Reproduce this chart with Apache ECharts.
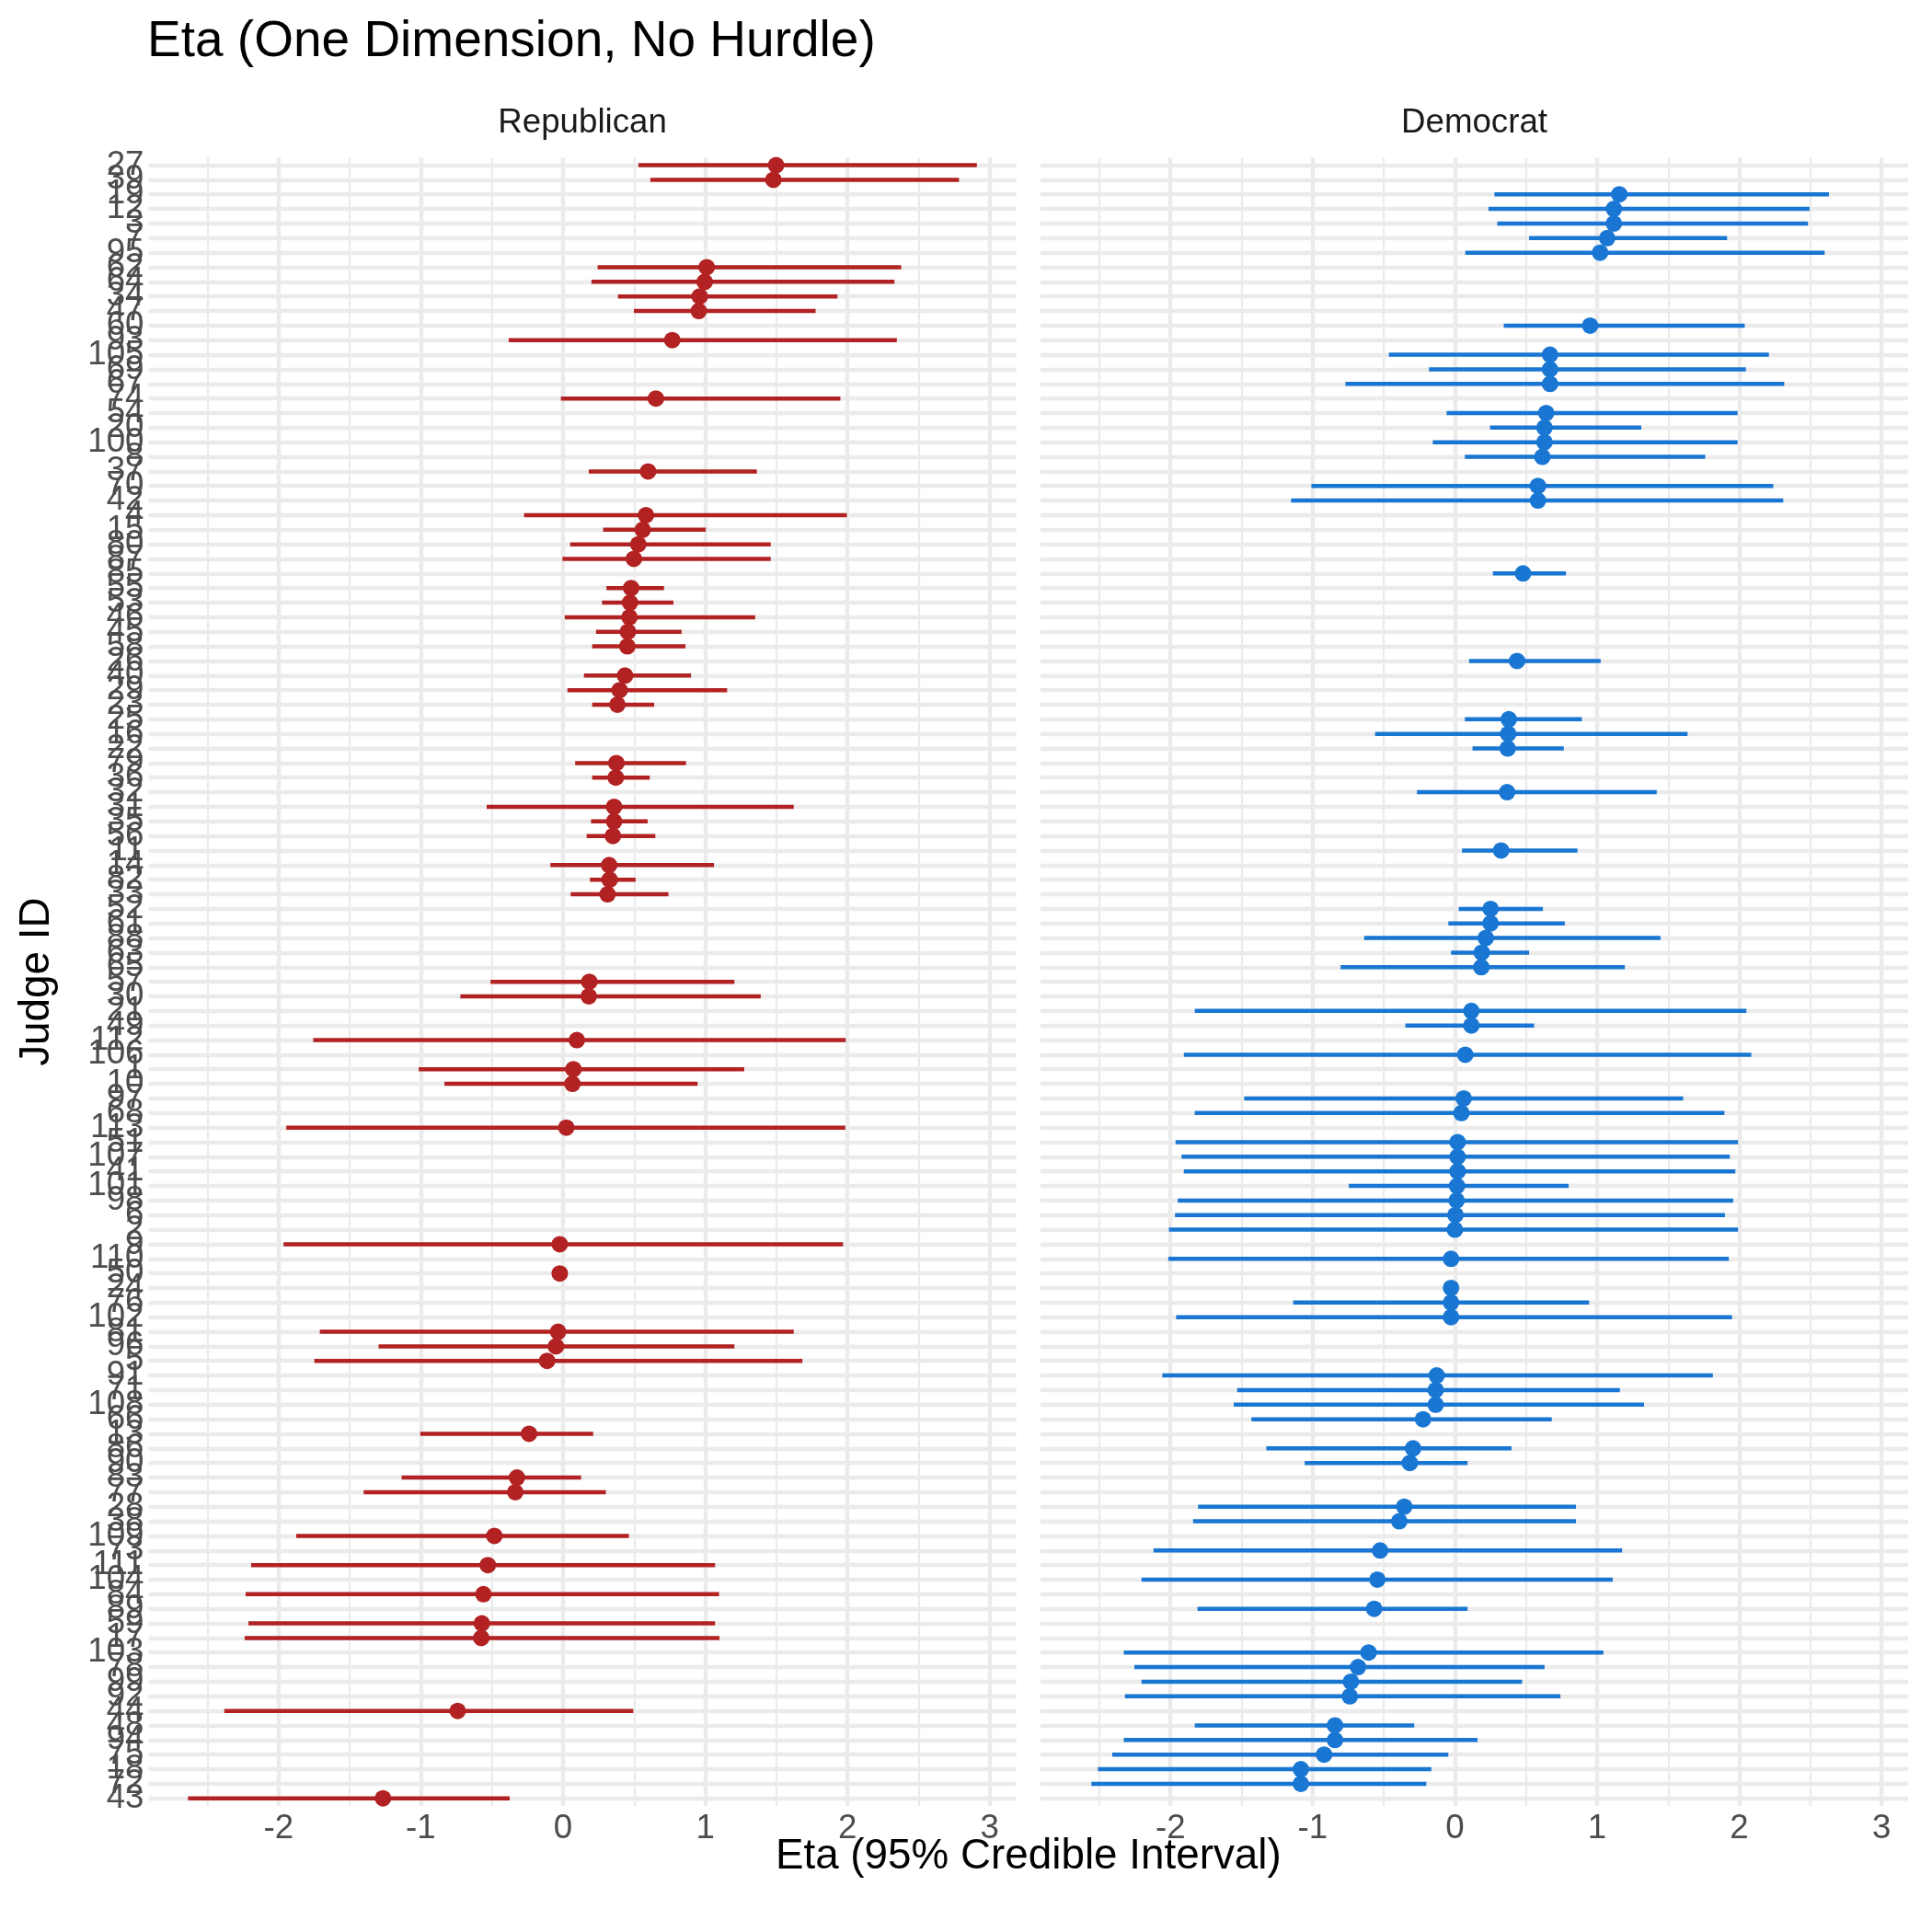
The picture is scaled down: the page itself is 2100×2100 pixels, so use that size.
<!DOCTYPE html>
<html><head><meta charset="utf-8">
<script src="https://cdn.jsdelivr.net/npm/echarts@6/dist/echarts.min.js"></script>
<style>html,body{margin:0;padding:0;background:#fff}#c{width:2100px;height:2100px}</style>
</head><body><div id="c"></div>
<script>
// Judge IDs top to bottom (sorted by eta)
const judgeOrder = ["27","39","19","12","3","7","95","62","64","34","47","60","93","105","69","67","74","54","20","100","8","37","70","42","4","15","80","87","85","55","53","46","45","58","26","40","29","23","25","16","22","79","36","32","31","35","56","11","14","82","33","52","61","88","63","65","57","30","21","49","112","106","1","10","97","68","113","51","107","41","101","98","6","2","9","110","50","24","76","102","81","96","5","91","71","108","66","13","86","90","83","77","28","38","109","73","111","104","84","89","59","17","103","78","99","92","44","48","94","75","18","72","43"];

// Republican panel
const repJudges = ["27","39","62","64","34","47","93","74","37","4","15","80","87","55","53","46","45","58","40","29","23","79","36","31","35","56","14","82","33","57","30","112","1","10","113","9","50","81","96","5","13","83","77","109","111","84","59","17","44","43"];
const repEta  = [1.498,1.479,1.01,0.996,0.961,0.954,0.768,0.653,0.598,0.583,0.56,0.529,0.498,0.479,0.471,0.467,0.456,0.452,0.436,0.398,0.382,0.375,0.371,0.359,0.359,0.351,0.324,0.328,0.313,0.185,0.181,0.097,0.073,0.066,0.023,-0.023,-0.023,-0.035,-0.05,-0.112,-0.239,-0.324,-0.336,-0.483,-0.529,-0.56,-0.571,-0.575,-0.741,-1.266];
const repLow  = [0.53,0.614,0.243,0.20,0.386,0.498,-0.382,-0.015,0.181,-0.274,0.282,0.05,-0.004,0.305,0.274,0.012,0.232,0.205,0.147,0.031,0.205,0.085,0.205,-0.537,0.197,0.166,-0.089,0.189,0.054,-0.51,-0.722,-1.757,-1.015,-0.834,-1.946,-1.965,-0.03,-1.71,-1.297,-1.749,-1.004,-1.135,-1.402,-1.876,-2.193,-2.232,-2.212,-2.239,-2.382,-2.637];
const repHigh = [2.91,2.784,2.378,2.33,1.93,1.776,2.347,1.95,1.363,1.996,1.004,1.46,1.46,0.71,0.776,1.351,0.834,0.861,0.90,1.154,0.641,0.865,0.61,1.622,0.595,0.649,1.062,0.51,0.741,1.205,1.39,1.988,1.274,0.946,1.985,1.969,-0.015,1.622,1.205,1.683,0.212,0.127,0.301,0.463,1.069,1.097,1.069,1.10,0.494,-0.375];

// Democrat panel
const demJudges = ["19","12","3","7","95","60","105","69","67","54","20","100","8","70","42","85","26","25","16","22","32","11","52","61","88","63","65","21","49","106","97","68","51","107","41","101","98","6","2","110","24","76","102","91","71","108","66","86","90","28","38","73","104","89","103","78","99","92","48","94","75","18","72"];
const demEta  = [1.156,1.118,1.118,1.071,1.021,0.951,0.669,0.669,0.669,0.642,0.63,0.63,0.615,0.584,0.584,0.479,0.437,0.379,0.375,0.371,0.367,0.325,0.251,0.251,0.217,0.189,0.186,0.116,0.116,0.073,0.062,0.046,0.019,0.019,0.019,0.015,0.012,0.004,0.0,-0.027,-0.027,-0.027,-0.027,-0.128,-0.135,-0.135,-0.224,-0.294,-0.317,-0.356,-0.391,-0.526,-0.545,-0.568,-0.607,-0.681,-0.731,-0.739,-0.843,-0.843,-0.92,-1.083,-1.083];
const demLow  = [0.278,0.236,0.298,0.522,0.073,0.344,-0.464,-0.182,-0.77,-0.058,0.247,-0.155,0.07,-1.009,-1.152,0.267,0.10,0.07,-0.561,0.124,-0.267,0.05,0.027,-0.046,-0.638,-0.027,-0.804,-1.829,-0.348,-1.906,-1.481,-1.829,-1.964,-1.922,-1.906,-0.746,-1.949,-1.968,-2.011,-2.015,-0.04,-1.137,-1.96,-2.057,-1.531,-1.555,-1.431,-1.326,-1.056,-1.806,-1.841,-2.119,-2.204,-1.81,-2.328,-2.254,-2.204,-2.32,-1.829,-2.328,-2.409,-2.51,-2.556];
const demHigh = [2.63,2.494,2.483,1.914,2.60,2.038,2.208,2.046,2.316,1.988,1.311,1.988,1.76,2.239,2.309,0.781,1.025,0.893,1.636,0.766,1.419,0.862,0.619,0.773,1.446,0.522,1.195,2.05,0.557,2.084,1.605,1.895,1.991,1.933,1.972,0.80,1.957,1.899,1.991,1.926,-0.015,0.944,1.949,1.814,1.16,1.33,0.681,0.398,0.089,0.851,0.851,1.176,1.11,0.089,1.044,0.63,0.472,0.742,-0.286,0.159,-0.046,-0.166,-0.201];

const panelNames = ["Republican","Democrat"];
const panelColors = ["#B22222","#1976D2"];

const FF = '"Liberation Sans", Arial, Helvetica, sans-serif';
const allLow = repLow.concat(demLow), allHigh = repHigh.concat(demHigh);
const lo = Math.min.apply(null, allLow), hi = Math.max.apply(null, allHigh);
const pad = (hi - lo) * 0.05;
const xMin = lo - pad, xMax = hi + pad;

const band = 15.85;
const gridTop = 171.6;
const gridH = band * judgeOrder.length;
const panelW = 943.2;
const lefts = [161.5, 1130.9];

const chart = echarts.init(document.getElementById('c'), null, {renderer:'canvas'});

function xAxisCfg(i){
  return {type:'value', gridIndex:i, min:xMin, max:xMax,
    axisLine:{show:false}, axisTick:{show:false},
    axisLabel:{fontSize:36.7, color:'#4D4D4D', fontFamily:FF, margin:7,
      formatter:function(v){ return Math.abs(v-Math.round(v))<1e-9 ? String(Math.round(v)) : ''; }},
    splitLine:{show:true, showMinLine:false, showMaxLine:false, lineStyle:{color:'#EBEBEB', width:4.4}},
    minorTick:{show:false, splitNumber:2},
    minorSplitLine:{show:true, lineStyle:{color:'#EBEBEB', width:2.2}}
  };
}
function yAxisCfg(i){
  return {type:'category', gridIndex:i, data:judgeOrder, inverse:true, boundaryGap:true,
    axisLine:{show:false}, axisTick:{show:false},
    axisLabel:{show:i===0, interval:0, fontSize:36.7, color:'#4D4D4D', fontFamily:FF, margin:5},
    splitLine:{show:true, interval:0, alignWithLabel:true, lineStyle:{color:'#EBEBEB', width:4.4}}
  };
}
function errSeries(i, judges, low, high){
  const color = panelColors[i];
  return {type:'custom', xAxisIndex:i, yAxisIndex:i, silent:true, z:2,
    data: judges.map(function(j,k){ return [low[k], high[k], judgeOrder.indexOf(j)]; }),
    encode:{x:[0,1], y:2},
    renderItem:function(params, api){
      const y = api.value(2);
      const a = api.coord([api.value(0), y]);
      const b = api.coord([api.value(1), y]);
      return {type:'line', shape:{x1:a[0], y1:a[1], x2:b[0], y2:b[1]}, style:{stroke:color, lineWidth:4.5}};
    }
  };
}
function ptSeries(i, judges, eta){
  return {type:'scatter', xAxisIndex:i, yAxisIndex:i, silent:true, z:3,
    symbol:'circle', symbolSize:18, itemStyle:{color:panelColors[i], opacity:1},
    data: judges.map(function(j,k){ return [eta[k], judgeOrder.indexOf(j)]; })
  };
}

const option = {
  animation:false,
  backgroundColor:'#ffffff',
  grid: lefts.map(function(l){ return {left:l, top:gridTop, width:panelW, height:gridH, containLabel:false}; }),
  xAxis: [xAxisCfg(0), xAxisCfg(1)],
  yAxis: [yAxisCfg(0), yAxisCfg(1)],
  series: [
    errSeries(0, repJudges, repLow, repHigh), ptSeries(0, repJudges, repEta),
    errSeries(1, demJudges, demLow, demHigh), ptSeries(1, demJudges, demEta)
  ],
  graphic: [
    {type:'text', left:160, top:18, style:{text:'Eta (One Dimension, No Hurdle)', font:'55px '+FF, fill:'#000000'}},
    {type:'text', x:lefts[0]+panelW/2, y:134, style:{text:panelNames[0], font:'36.7px '+FF, fill:'#1A1A1A', align:'center', verticalAlign:'middle'}},
    {type:'text', x:lefts[1]+panelW/2, y:134, style:{text:panelNames[1], font:'36.7px '+FF, fill:'#1A1A1A', align:'center', verticalAlign:'middle'}},
    {type:'text', x:(lefts[0]+lefts[1]+panelW)/2, y:2018, style:{text:'Eta (95% Credible Interval)', font:'45.8px '+FF, fill:'#000000', align:'center', verticalAlign:'middle'}},
    {type:'text', x:40, y:gridTop+gridH/2, rotation:Math.PI/2, style:{text:'Judge ID', font:'45.8px '+FF, fill:'#000000', align:'center', verticalAlign:'middle'}}
  ]
};
chart.setOption(option);
</script>
</body></html>
